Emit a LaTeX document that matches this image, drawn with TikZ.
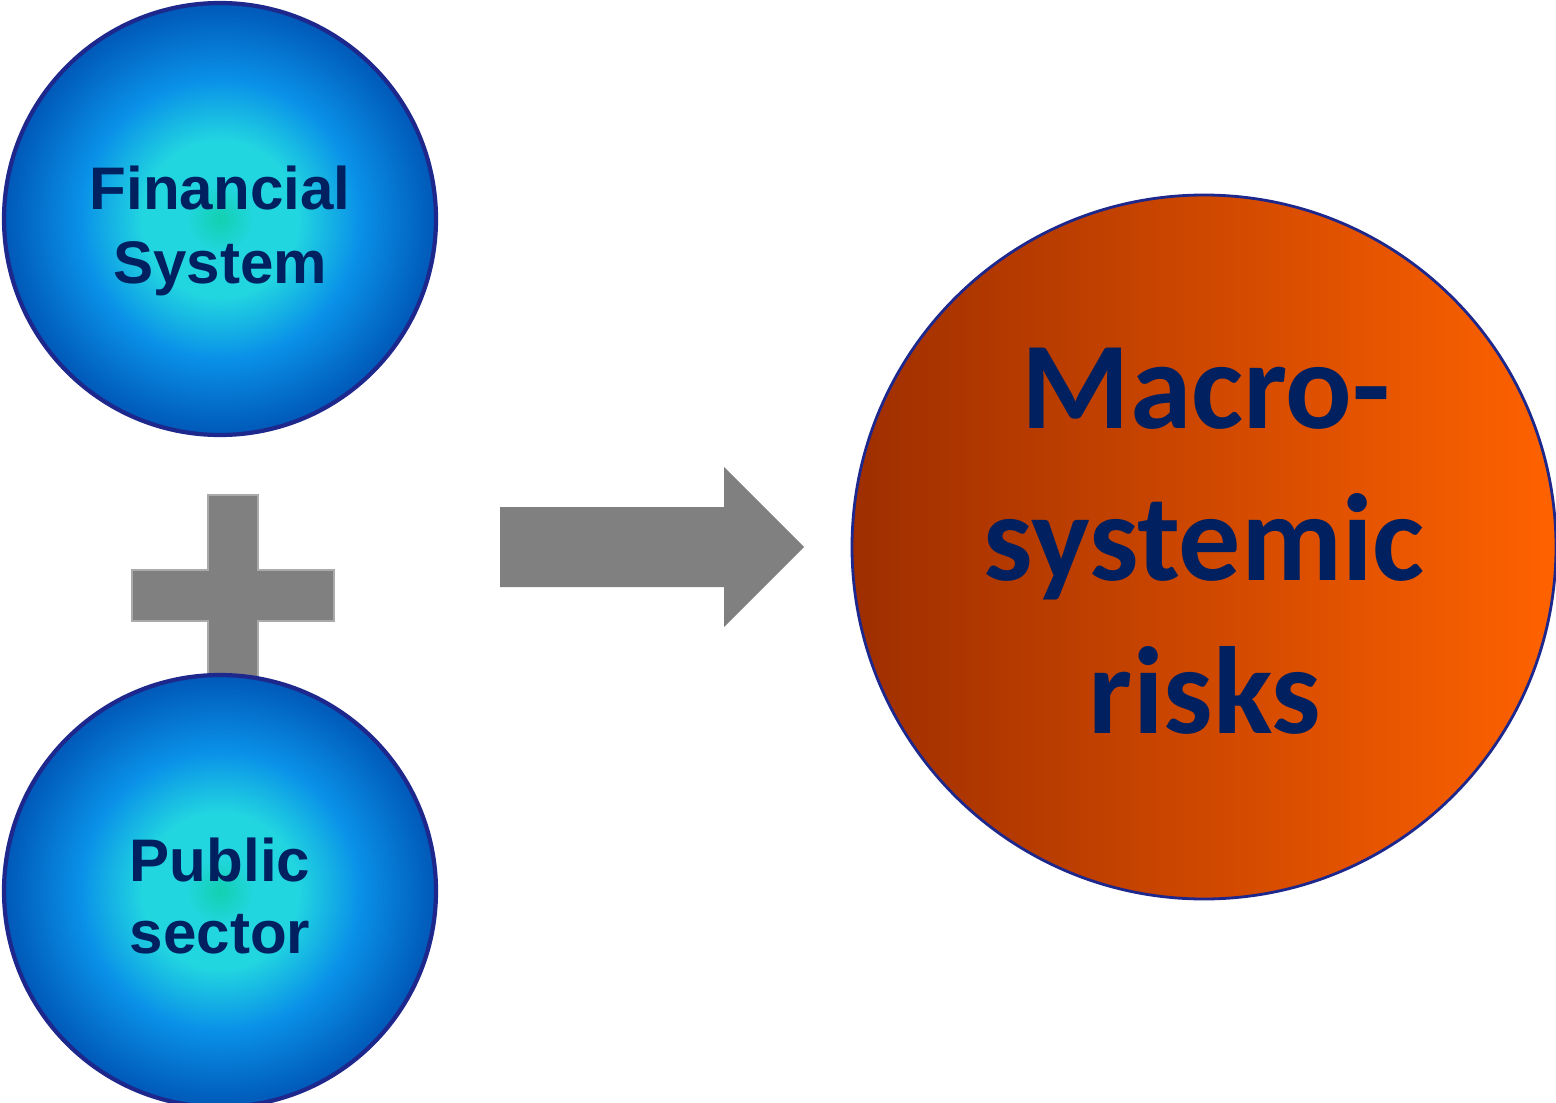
\documentclass[tikz,border=0pt]{standalone}
\usepackage{fontspec}
\newfontfamily\armfont[BoldFont={Liberation Sans Bold}]{Liberation Sans}
\newfontfamily\calfont[BoldFont={Carlito Bold}]{Carlito}
\definecolor{navy}{RGB}{0,32,96}
\definecolor{rimblue}{RGB}{30,40,140}
\definecolor{plusgray}{RGB}{128,128,128}
\definecolor{c0}{RGB}{18,208,176}
\definecolor{c1}{RGB}{34,214,224}
\definecolor{c2}{RGB}{10,146,232}
\definecolor{c3}{RGB}{0,88,184}
\definecolor{orL}{RGB}{158,46,0}
\definecolor{orM}{RGB}{226,80,0}
\definecolor{orR}{RGB}{255,98,0}
\pgfdeclareradialshading{bluesphere}{\pgfpoint{0bp}{0bp}}{%
  color(0bp)=(c0); color(4bp)=(c1); color(9bp)=(c1); color(16bp)=(c2);
  color(25bp)=(c3); color(50bp)=(c3)}
\tikzset{
  bluecircle/.style={circle, minimum size=4.32cm, inner sep=0pt,
    draw=rimblue, line width=1.2pt, shading=bluesphere},
  smalltext/.style={anchor=base, text=navy, inner sep=0pt,
    font=\armfont\bfseries\fontsize{17.1}{20}\selectfont},
  bigtext/.style={anchor=base, text=navy, inner sep=0pt,
    font=\calfont\bfseries\fontsize{35.3}{42}\selectfont},
  grayshape/.style={fill=plusgray, draw={rgb,255:red,170;green,170;blue,170}, line width=0.5pt}
}
\begin{document}
\begin{tikzpicture}
\useasboundingbox (0,0) rectangle (15.56,-11.03);
% plus sign, partly hidden behind the lower circle
\path[grayshape] (2.08,-4.95) -- (2.58,-4.95) -- (2.58,-5.70) -- (3.34,-5.70)
  -- (3.34,-6.21) -- (2.58,-6.21) -- (2.58,-6.90) -- (2.08,-6.90) -- (2.08,-6.21)
  -- (1.32,-6.21) -- (1.32,-5.70) -- (2.08,-5.70) -- cycle;
% the two input circles
\node[bluecircle] (fin) at (2.20,-2.19) {};
\node[bluecircle] (pub) at (2.20,-8.91) {};
\node[smalltext] (fin1) at (2.20,-2.10) {Financial};
\node[smalltext] (fin2) at (2.20,-2.83) {System};
\node[smalltext] (pub1) at (2.20,-8.81) {Public};
\node[smalltext] (pub2) at (2.20,-9.53) {sector};
% block arrow
\path[grayshape, draw=none] (5.00,-5.07) -- (7.24,-5.07) -- (7.24,-4.67) -- (8.04,-5.47)
  -- (7.24,-6.27) -- (7.24,-5.87) -- (5.00,-5.87) -- cycle;
% result circle
\node[circle, minimum size=7.04cm, inner sep=0pt, draw=rimblue, line width=0.8pt,
  left color=orL, middle color=orM, right color=orR] (risk) at (12.04,-5.47) {};
\node[bigtext] (r1) at (12.06,-4.28) {Macro-};
\node[bigtext] (r2) at (12.04,-5.80) {systemic};
\node[bigtext] (r3) at (12.05,-7.33) {risks};
\end{tikzpicture}
\end{document}
